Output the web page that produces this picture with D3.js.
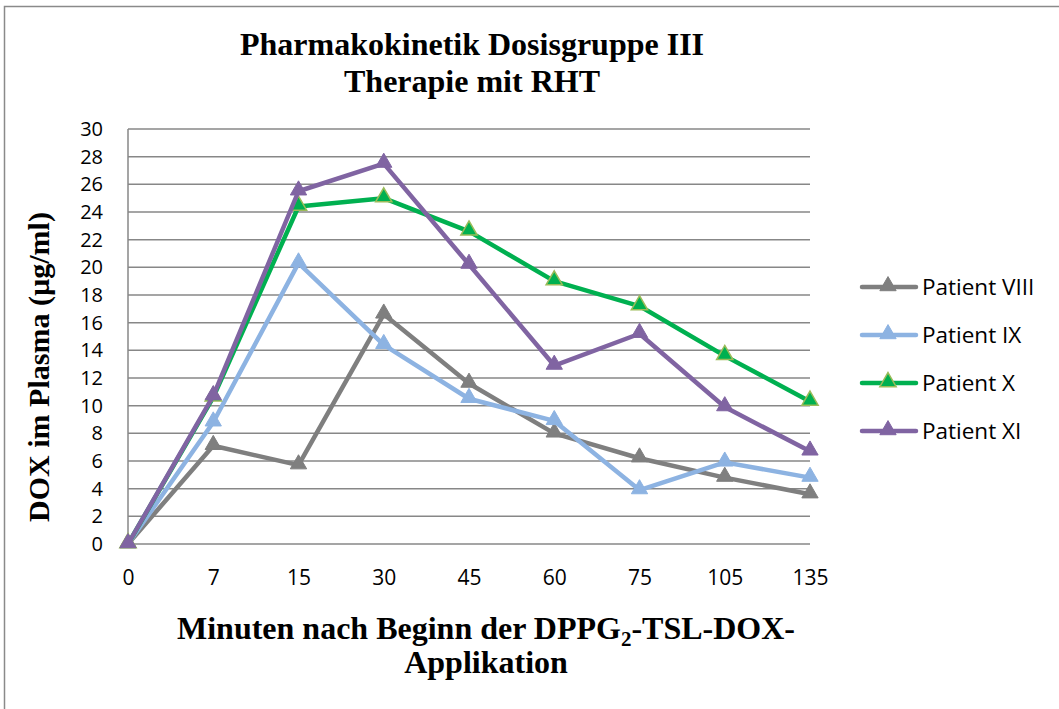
<!DOCTYPE html>
<html>
<head>
<meta charset="utf-8">
<script src="https://cdn.jsdelivr.net/npm/d3@7"></script>
<style>
  body { margin: 0; background: #fff; }
  svg { display: block; }
</style>
</head>
<body>
<div id="chart"></div>
<script>
// data
var minutes = ["0", "7", "15", "30", "45", "60", "75", "105", "135"];
var yTicks = d3.range(0, 31, 2);
var seriesNames = ["Patient VIII", "Patient IX", "Patient X", "Patient XI"];
var patientVIII = [0, 7.1, 5.7, 16.6, 11.6, 8.0, 6.2, 4.8, 3.6];
var patientIX   = [0, 8.8, 20.3, 14.4, 10.5, 8.9, 3.9, 5.9, 4.8];
var patientX    = [0, 10.6, 24.4, 25.0, 22.6, 19.0, 17.2, 13.6, 10.3];
var patientXI   = [0, 10.7, 25.5, 27.5, 20.2, 12.9, 15.2, 9.9, 6.7];

var colors  = ["#7f7f7f", "#8db3e2", "#00b050", "#8064a2"];
var mStroke = ["#7f7f7f", "#8db3e2", "#9bbb59", "#8064a2"];

var W = 1059, H = 709;
var svg = d3.select("#chart").append("svg").attr("width", W).attr("height", H);

// outer frame
svg.append("rect")
  .attr("x", 4.5).attr("y", 6.5)
  .attr("width", W + 10).attr("height", H + 10)
  .attr("fill", "none").attr("stroke", "#8a8a8a").attr("stroke-width", 1.5);

var x = d3.scalePoint().domain(minutes).range([128, 810]);
var y = d3.scaleLinear().domain([0, 30]).range([544, 129]);

// horizontal gridlines
svg.append("g").selectAll("line")
  .data(yTicks)
  .enter().append("line")
  .attr("x1", 128).attr("x2", 810)
  .attr("y1", function(d){ return y(d); })
  .attr("y2", function(d){ return y(d); })
  .attr("stroke", "#878787").attr("stroke-width", 1.5);

// left axis line
svg.append("line")
  .attr("x1", 128).attr("x2", 128)
  .attr("y1", y(30)).attr("y2", y(0))
  .attr("stroke", "#878787").attr("stroke-width", 1.5);

var sans = "'Open Sans', 'Liberation Sans', sans-serif";

// y axis labels
var yAxis = d3.axisLeft(y).tickValues(yTicks).tickSize(0).tickPadding(0);
var gy = svg.append("g").attr("transform", "translate(103,0)").call(yAxis);
gy.select(".domain").remove();
gy.selectAll("text")
  .style("font-family", sans)
  .style("font-size", "20px").attr("fill", "#000");

// x axis labels
var xAxis = d3.axisBottom(x).tickSize(0).tickPadding(0);
var gx = svg.append("g").attr("transform", "translate(0,570)").call(xAxis);
gx.select(".domain").remove();
gx.selectAll("text")
  .style("font-family", sans)
  .style("font-size", "21px").attr("fill", "#000");

// lines
var all = [patientVIII, patientIX, patientX, patientXI];
var line = d3.line()
  .x(function(d, i){ return x(minutes[i]); })
  .y(function(d){ return y(d); });

var tri = d3.symbol().type(d3.symbolTriangle).size(115);

all.forEach(function(vals, k){
  var g = svg.append("g");
  g.append("path")
    .attr("d", line(vals))
    .attr("fill", "none")
    .attr("stroke", colors[k])
    .attr("stroke-width", 4.5)
    .attr("stroke-linejoin", "round");
  g.selectAll("path.m")
    .data(vals)
    .enter().append("path")
    .attr("class", "m")
    .attr("d", tri)
    .attr("transform", function(d, i){ return "translate(" + x(minutes[i]) + "," + (y(d) - 1) + ")"; })
    .attr("fill", colors[k])
    .attr("stroke", mStroke[k])
    .attr("stroke-width", k == 2 ? 1.5 : 1);
});

// legend
var leg = svg.append("g");
seriesNames.forEach(function(name, k){
  var ly = 287 + k * 48;
  leg.append("line")
    .attr("x1", 862).attr("x2", 916)
    .attr("y1", ly).attr("y2", ly)
    .attr("stroke", colors[k]).attr("stroke-width", 4.5)
    .attr("stroke-linecap", "round");
  leg.append("path")
    .attr("d", tri)
    .attr("transform", "translate(888," + (ly - 1) + ")")
    .attr("fill", colors[k])
    .attr("stroke", mStroke[k])
    .attr("stroke-width", k == 2 ? 1.5 : 1);
  leg.append("text")
    .attr("x", 922).attr("y", ly + 8)
    .style("font-family", sans)
    .style("font-size", "22.5px")
    .text(name);
});

// titles
var serif = "'Liberation Serif', 'Times New Roman', serif";
svg.append("text")
  .attr("x", 472).attr("y", 55)
  .attr("text-anchor", "middle")
  .style("font-family", serif).style("font-weight", "bold").style("font-size", "32px")
  .text("Pharmakokinetik Dosisgruppe III");
svg.append("text")
  .attr("x", 472).attr("y", 92)
  .attr("text-anchor", "middle")
  .style("font-family", serif).style("font-weight", "bold").style("font-size", "32px")
  .text("Therapie mit RHT");

svg.append("text")
  .attr("transform", "translate(49,367) rotate(-90)")
  .attr("text-anchor", "middle")
  .style("font-family", serif).style("font-weight", "bold").style("font-size", "30px")
  .text("DOX im Plasma (µg/ml)");

var xt = svg.append("text")
  .attr("x", 486).attr("y", 639)
  .attr("text-anchor", "middle")
  .style("font-family", serif).style("font-weight", "bold").style("font-size", "32px");
xt.append("tspan").text("Minuten nach Beginn der DPPG");
xt.append("tspan").attr("dy", 7).style("font-size", "21px").text("2");
xt.append("tspan").attr("dy", -7).text("-TSL-DOX-");

svg.append("text")
  .attr("x", 486).attr("y", 673)
  .attr("text-anchor", "middle")
  .style("font-family", serif).style("font-weight", "bold").style("font-size", "32px")
  .text("Applikation");
</script>
</body>
</html>
